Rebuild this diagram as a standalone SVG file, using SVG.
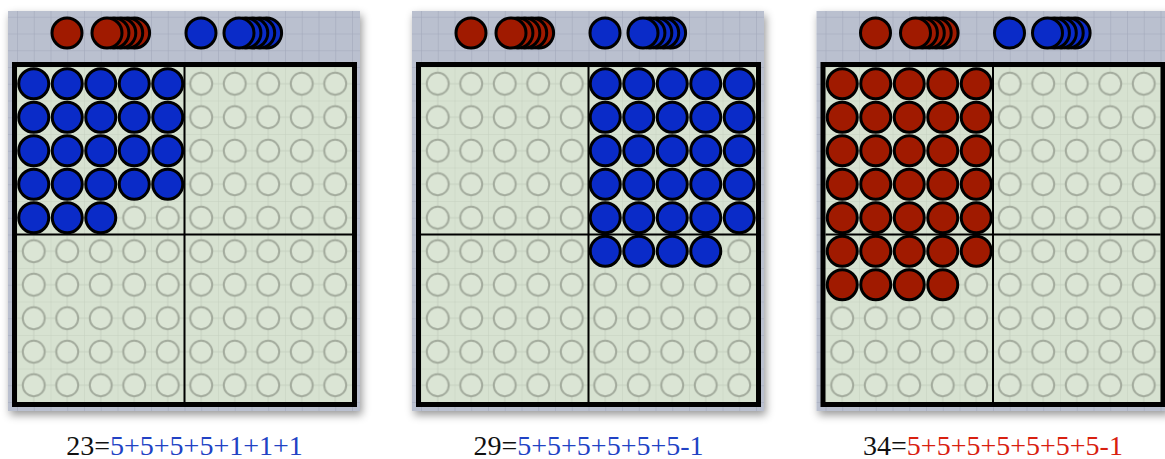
<svg xmlns="http://www.w3.org/2000/svg" xmlns:xlink="http://www.w3.org/1999/xlink" width="1165" height="459" viewBox="0 0 1165 459">
<style>
.panel{fill:url(#panelPat);filter:url(#shadow)}
.board{fill:url(#boardPat);stroke:#000;stroke-width:5}
.div{stroke:#000;stroke-width:2;fill:none}
.lbl{font-family:"Liberation Serif","Times New Roman",serif;font-size:28px;text-anchor:middle}
.k{fill:#111}
.bl{fill:#2142c4}
.rd{fill:#d8200f}
</style>
<defs>
<filter id="shadow" x="-10%" y="-10%" width="125%" height="125%">
<feDropShadow dx="2" dy="4" stdDeviation="4" flood-color="#000" flood-opacity="0.4"/>
</filter>
<pattern id="panelPat" patternUnits="userSpaceOnUse" x="-167.5" y="67" width="16.75" height="16.75">
<rect width="16.75" height="16.75" fill="#bac0cf"/>
<path d="M0 0V16.75M0 0H16.75" stroke="#a3a9bb" stroke-width="1.2" fill="none"/>
</pattern>
<pattern id="boardPat" patternUnits="userSpaceOnUse" x="-167.5" y="67" width="33.5" height="33.5">
<rect width="33.5" height="33.5" fill="#d7e2d1"/>
<path d="M0 0V33.5M16.75 0V33.5M0 0H33.5M0 16.75H33.5" stroke="#c5d0c0" stroke-width="1" fill="none"/>
<circle cx="16.75" cy="16.75" r="11" fill="#dbe5d5" stroke="#a3ab9d" stroke-width="2"/>
</pattern>
<circle id="b" r="15" fill="#0a2bc8" stroke="#000" stroke-width="3"/>
<circle id="r" r="15" fill="#a01a00" stroke="#000" stroke-width="3"/>
<g id="b5"><use href="#b" x="0"/><use href="#b" x="33.5"/><use href="#b" x="67"/><use href="#b" x="100.5"/><use href="#b" x="134"/></g>
<g id="r5"><use href="#r" x="0"/><use href="#r" x="33.5"/><use href="#r" x="67"/><use href="#r" x="100.5"/><use href="#r" x="134"/></g>
<g id="rs"><use href="#r" x="27.6"/><use href="#r" x="20.7"/><use href="#r" x="13.8"/><use href="#r" x="6.9"/><use href="#r" x="0"/></g>
<g id="bs"><use href="#b" x="27.6"/><use href="#b" x="20.7"/><use href="#b" x="13.8"/><use href="#b" x="6.9"/><use href="#b" x="0"/></g>
<g id="frame">
<rect class="panel" x="-176.5" y="11" width="352" height="400"/>
<use href="#r" x="-117.5" y="33"/>
<use href="#rs" x="-77.5" y="33"/>
<use href="#b" x="16.5" y="33"/>
<use href="#bs" x="54.5" y="33"/>
<rect class="board" x="-170" y="64.5" width="340" height="340"/>
<path class="div" d="M0 67V402M-167.5 234.5H167.5"/>
</g>
</defs>
<g id="panel-23" transform="translate(184.5,0)">
<use href="#frame"/>
<use href="#b5" x="-150.75" y="83.75"/>
<use href="#b5" x="-150.75" y="117.25"/>
<use href="#b5" x="-150.75" y="150.75"/>
<use href="#b5" x="-150.75" y="184.25"/>
<use href="#b" x="-150.75" y="217.75"/>
<use href="#b" x="-117.25" y="217.75"/>
<use href="#b" x="-83.75" y="217.75"/>
<text class="lbl" x="0" y="455"><tspan class="k">23=</tspan><tspan class="bl">5+5+5+5+1+1+1</tspan></text>
</g>
<g id="panel-29" transform="translate(588.5,0)">
<use href="#frame"/>
<use href="#b5" x="16.75" y="83.75"/>
<use href="#b5" x="16.75" y="117.25"/>
<use href="#b5" x="16.75" y="150.75"/>
<use href="#b5" x="16.75" y="184.25"/>
<use href="#b5" x="16.75" y="217.75"/>
<use href="#b" x="16.75" y="251.25"/>
<use href="#b" x="50.25" y="251.25"/>
<use href="#b" x="83.75" y="251.25"/>
<use href="#b" x="117.25" y="251.25"/>
<text class="lbl" x="0" y="455"><tspan class="k">29=</tspan><tspan class="bl">5+5+5+5+5+5-1</tspan></text>
</g>
<g id="panel-34" transform="translate(993,0)">
<use href="#frame"/>
<use href="#r5" x="-150.75" y="83.75"/>
<use href="#r5" x="-150.75" y="117.25"/>
<use href="#r5" x="-150.75" y="150.75"/>
<use href="#r5" x="-150.75" y="184.25"/>
<use href="#r5" x="-150.75" y="217.75"/>
<use href="#r5" x="-150.75" y="251.25"/>
<use href="#r" x="-150.75" y="284.75"/>
<use href="#r" x="-117.25" y="284.75"/>
<use href="#r" x="-83.75" y="284.75"/>
<use href="#r" x="-50.25" y="284.75"/>
<text class="lbl" x="0" y="455"><tspan class="k">34=</tspan><tspan class="rd">5+5+5+5+5+5+5-1</tspan></text>
</g>
<g id="connectors"/>
</svg>
